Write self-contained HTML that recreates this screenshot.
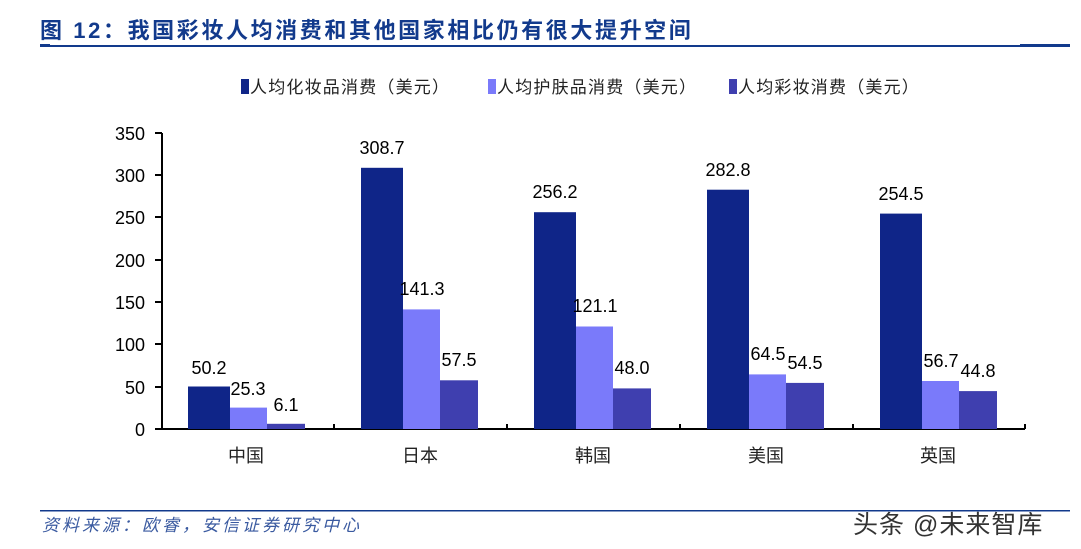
<!DOCTYPE html>
<html><head><meta charset="utf-8"><style>
body{margin:0;background:#fff;width:1081px;height:549px;overflow:hidden}
svg{display:block}
</style></head><body>
<svg width="1081" height="549" xmlns="http://www.w3.org/2000/svg" font-family="Liberation Sans, Noto Sans CJK SC, sans-serif">
<text x="40" y="38" font-size="22" font-weight="bold" fill="#123a8c" letter-spacing="2.6">图 12：我国彩妆人均消费和其他国家相比仍有很大提升空间</text>
<rect x="40" y="45" width="1030" height="2" fill="#123a8c"/>
<rect x="40" y="44" width="10" height="3" fill="#123a8c"/>
<rect x="1020" y="44" width="50" height="3" fill="#123a8c"/>
<g font-size="17" fill="#222" letter-spacing="1.2">
<rect x="241" y="79" width="8" height="15" fill="#0f2588"/><text x="250" y="93">人均化妆品消费（美元）</text>
<rect x="488" y="79" width="8" height="15" fill="#7a7afa"/><text x="497" y="93">人均护肤品消费（美元）</text>
<rect x="729" y="79" width="8" height="15" fill="#3f3faf"/><text x="738" y="93">人均彩妆消费（美元）</text>
</g>
<g font-size="18" fill="#000" text-anchor="end">
<text x="145" y="436">0</text><text x="145" y="394">50</text><text x="145" y="351">100</text><text x="145" y="309">150</text><text x="145" y="267">200</text><text x="145" y="224">250</text><text x="145" y="182">300</text><text x="145" y="140">350</text>
</g>
<g stroke="#000" stroke-width="2">
<line x1="162" y1="133" x2="162" y2="430"/>
<line x1="161" y1="429" x2="1025" y2="429"/>
<line x1="155" y1="429" x2="162" y2="429"/><line x1="155" y1="387" x2="162" y2="387"/><line x1="155" y1="344" x2="162" y2="344"/><line x1="155" y1="302" x2="162" y2="302"/><line x1="155" y1="260" x2="162" y2="260"/><line x1="155" y1="217" x2="162" y2="217"/><line x1="155" y1="175" x2="162" y2="175"/><line x1="155" y1="133" x2="162" y2="133"/>
<line x1="334" y1="424" x2="334" y2="429"/><line x1="507" y1="424" x2="507" y2="429"/><line x1="680" y1="424" x2="680" y2="429"/><line x1="853" y1="424" x2="853" y2="429"/><line x1="1025" y1="424" x2="1025" y2="429"/>
</g>
<g font-size="18" fill="#000" text-anchor="middle">
<rect x="188" y="386.5" width="42" height="42.5" fill="#0f2588"/>
<rect x="230" y="407.6" width="37" height="21.4" fill="#7a7afa"/>
<rect x="267" y="423.8" width="38" height="5.2" fill="#3f3faf"/>
<text x="209" y="374">50.2</text><text x="248" y="395">25.3</text><text x="286" y="411">6.1</text>
<rect x="361" y="167.8" width="42" height="261.2" fill="#0f2588"/>
<rect x="403" y="309.4" width="37" height="119.6" fill="#7a7afa"/>
<rect x="440" y="380.3" width="38" height="48.7" fill="#3f3faf"/>
<text x="382" y="154">308.7</text><text x="422" y="295">141.3</text><text x="459" y="366">57.5</text>
<rect x="534" y="212.2" width="42" height="216.8" fill="#0f2588"/>
<rect x="576" y="326.5" width="37" height="102.5" fill="#7a7afa"/>
<rect x="613" y="388.4" width="38" height="40.6" fill="#3f3faf"/>
<text x="555" y="198">256.2</text><text x="595" y="312">121.1</text><text x="632" y="374">48.0</text>
<rect x="707" y="189.7" width="42" height="239.3" fill="#0f2588"/>
<rect x="749" y="374.4" width="37" height="54.6" fill="#7a7afa"/>
<rect x="786" y="382.9" width="38" height="46.1" fill="#3f3faf"/>
<text x="728" y="176">282.8</text><text x="768" y="360">64.5</text><text x="805" y="369">54.5</text>
<rect x="880" y="213.6" width="42" height="215.4" fill="#0f2588"/>
<rect x="922" y="381.0" width="37" height="48.0" fill="#7a7afa"/>
<rect x="959" y="391.1" width="38" height="37.9" fill="#3f3faf"/>
<text x="901" y="200">254.5</text><text x="941" y="367">56.7</text><text x="978" y="377">44.8</text>
</g>
<g font-size="18" fill="#222" text-anchor="middle">
<text x="246" y="462">中国</text><text x="420" y="462">日本</text><text x="593" y="462">韩国</text><text x="766" y="462">美国</text><text x="938" y="462">英国</text>
</g>
<rect x="40" y="510" width="1030" height="1.5" fill="#123a8c"/>
<text x="42" y="531" font-size="17" font-style="italic" fill="#3a5aa0" letter-spacing="3">资料来源：欧睿，安信证券研究中心</text>
<text x="853" y="533" font-size="25" fill="#333" letter-spacing="1">头条 @未来智库</text>
</svg>
</body></html>
